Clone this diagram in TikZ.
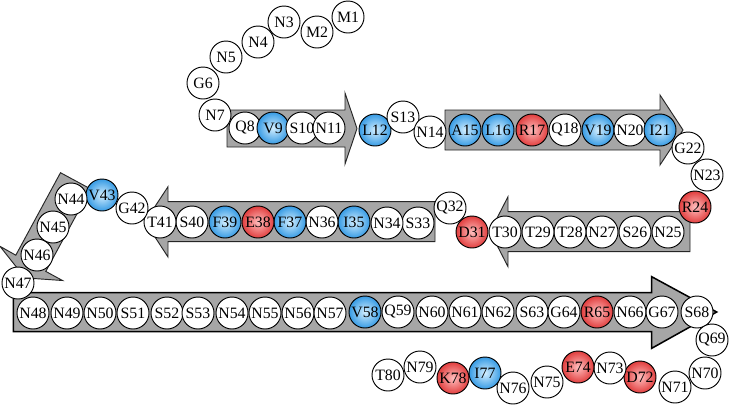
\documentclass[tikz,border=0pt]{standalone}
\usepackage{fontspec}
\setmainfont{Liberation Serif}
\definecolor{hydroout}{RGB}{55,155,228}
\definecolor{hydroin}{RGB}{210,238,255}
\definecolor{chargeout}{RGB}{225,62,62}
\definecolor{chargein}{RGB}{255,190,190}
\tikzset{
  residue/.style={
    draw,
    circle,
    fill=white,
    minimum size=0.96cm,
    inner sep=0pt,
    line width=0.8pt,
    font=\fontsize{13.5}{14}\selectfont
  },
  hydrophobic/.style={
    residue,
    inner color=hydroin,
    outer color=hydroout
  },
  charged/.style={
    residue,
    inner color=chargein,
    outer color=chargeout
  },
  strand/.style={
    draw=black!85,
    fill=black!35,
    line width=0.8pt,
    line join=miter
  }
}
\begin{document}
\begin{tikzpicture}[x=0.03cm, y=-0.03cm]
  \useasboundingbox (0,0) rectangle (729,406);

  \draw[strand] (227,110) -- (345,110) -- (345,93) -- (357,128.5)
    -- (345,164) -- (345,147) -- (227,147) -- cycle;
  \draw[strand] (445,110) -- (660,110) -- (660,95) -- (683,130)
    -- (660,165) -- (660,150) -- (445,150) -- cycle;
  \draw[strand] (690,211.7) -- (508,211.7) -- (508,196.7) -- (490,231.7)
    -- (508,266.7) -- (508,251.7) -- (690,251.7) -- cycle;
  \draw[strand] (435,201.7) -- (168,201.7) -- (168,186.7) -- (145,221.7)
    -- (168,257) -- (168,241.7) -- (435,241.7) -- cycle;
  \draw[strand] (60.5,172.7) -- (90.5,188.9) -- (45.8,271.4) -- (62.5,280.5)
    -- (25,277.9) -- (0,246.3) -- (15.8,255.2) -- cycle;
  \draw[strand, line width=1.3pt, draw=black] (13.3,292.7) -- (651.7,292.7)
    -- (651.7,276.7) -- (716.7,312) -- (651.7,348.3) -- (651.7,331.7)
    -- (13.3,331.7) -- cycle;

  \node[residue] (M1) at (348,17) {M1};
  \node[residue] (M2) at (317,32) {M2};
  \node[residue] (N3) at (284,22) {N3};
  \node[residue] (N4) at (258,42) {N4};
  \node[residue] (N5) at (226,57) {N5};
  \node[residue] (G6) at (203,83) {G6};
  \node[residue] (N7) at (215,115) {N7};
  \node[residue] (Q8) at (245,128) {Q8};
  \node[hydrophobic] (V9) at (273,128) {V9};
  \node[residue] (S10) at (302,128) {S10};
  \node[residue] (N11) at (329,128) {N11};
  \node[hydrophobic] (L12) at (375,130) {L12};
  \node[residue] (S13) at (403,117) {S13};
  \node[residue] (N14) at (430,132) {N14};
  \node[hydrophobic] (A15) at (465,130) {A15};
  \node[hydrophobic] (L16) at (498,130) {L16};
  \node[charged] (R17) at (532,130) {R17};
  \node[residue] (Q18) at (565,130) {Q18};
  \node[hydrophobic] (V19) at (598,130) {V19};
  \node[residue] (N20) at (630,130) {N20};
  \node[hydrophobic] (I21) at (660,130) {I21};
  \node[residue] (G22) at (688,148) {G22};
  \node[residue] (N23) at (707,175) {N23};
  \node[charged] (R24) at (695,207) {R24};
  \node[residue] (N25) at (668,232) {N25};
  \node[residue] (S26) at (635,232) {S26};
  \node[residue] (N27) at (602,232) {N27};
  \node[residue] (T28) at (570,232) {T28};
  \node[residue] (T29) at (538,232) {T29};
  \node[residue] (T30) at (505,232) {T30};
  \node[charged] (D31) at (472,232) {D31};
  \node[residue] (Q32) at (450,208) {Q32};
  \node[residue] (S33) at (418,223) {S33};
  \node[residue] (N34) at (387,223) {N34};
  \node[hydrophobic] (I35) at (354,222) {I35};
  \node[residue] (N36) at (322,222) {N36};
  \node[hydrophobic] (F37) at (290,222) {F37};
  \node[charged] (E38) at (258,222) {E38};
  \node[hydrophobic] (F39) at (225,222) {F39};
  \node[residue] (S40) at (192,222) {S40};
  \node[residue] (T41) at (160,222) {T41};
  \node[residue] (G42) at (132,208) {G42};
  \node[hydrophobic] (V43) at (102,195) {V43};
  \node[residue] (N44) at (71,199) {N44};
  \node[residue] (N45) at (53,227) {N45};
  \node[residue] (N46) at (37,255) {N46};
  \node[residue] (N47) at (18,283) {N47};
  \node[residue] (N48) at (33,313) {N48};
  \node[residue] (N49) at (67,313) {N49};
  \node[residue] (N50) at (100,313) {N50};
  \node[residue] (S51) at (133,313) {S51};
  \node[residue] (S52) at (167,313) {S52};
  \node[residue] (S53) at (198,313) {S53};
  \node[residue] (N54) at (232,313) {N54};
  \node[residue] (N55) at (265,313) {N55};
  \node[residue] (N56) at (298,313) {N56};
  \node[residue] (N57) at (330,313) {N57};
  \node[hydrophobic] (V58) at (365,312) {V58};
  \node[residue] (Q59) at (398,312) {Q59};
  \node[residue] (N60) at (432,312) {N60};
  \node[residue] (N61) at (465,312) {N61};
  \node[residue] (N62) at (498,312) {N62};
  \node[residue] (S63) at (532,312) {S63};
  \node[residue] (G64) at (564,312) {G64};
  \node[charged] (R65) at (597,312) {R65};
  \node[residue] (N66) at (630,312) {N66};
  \node[residue] (G67) at (662,312) {G67};
  \node[residue] (S68) at (697,312) {S68};
  \node[residue] (Q69) at (712,340) {Q69};
  \node[residue] (N70) at (705,373) {N70};
  \node[residue] (N71) at (675,387) {N71};
  \node[charged] (D72) at (640,377) {D72};
  \node[residue] (N73) at (610,368) {N73};
  \node[charged] (E74) at (578,367) {E74};
  \node[residue] (N75) at (547,382) {N75};
  \node[residue] (N76) at (513,388) {N76};
  \node[hydrophobic] (I77) at (485,373) {I77};
  \node[charged] (K78) at (453,378) {K78};
  \node[residue] (N79) at (420,367) {N79};
  \node[residue] (T80) at (388,375) {T80};
\end{tikzpicture}
\end{document}
